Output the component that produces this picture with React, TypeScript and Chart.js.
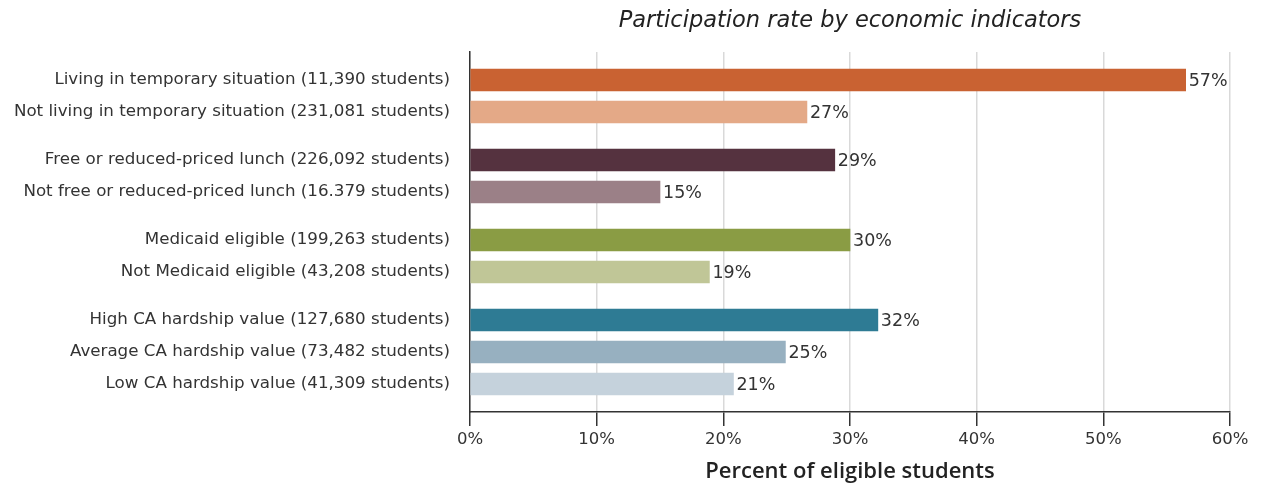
import React, { useEffect, useRef } from "react";
import { Chart, registerables } from "chart.js";

Chart.register(...registerables);

const groups: string[][] = [
  ["Living in temporary situation (11,390 students)", "Not living in temporary situation (231,081 students)"],
  ["Free or reduced-priced lunch (226,092 students)", "Not free or reduced-priced lunch (16.379 students)"],
  ["Medicaid eligible (199,263 students)", "Not Medicaid eligible (43,208 students)"],
  [
    "High CA hardship value (127,680 students)",
    "Average CA hardship value (73,482 students)",
    "Low CA hardship value (41,309 students)",
  ],
];

const values: number[] = [56.5, 26.6, 28.8, 15.0, 30.0, 18.9, 32.2, 24.9, 20.8];

const barColors: string[] = [
  "#C96232",
  "#E4A987",
  "#55323F",
  "#9B8087",
  "#8A9C44",
  "#C0C697",
  "#2E7B94",
  "#97B0C0",
  "#C5D2DC",
];

const xTicks: number[] = [0, 10, 20, 30, 40, 50, 60];

const chartTitle = "Participation rate by economic indicators";
const xTitle = "Percent of eligible students";

// derive slot positions from group structure (2 units within group, 3 between groups)
const labels: string[] = [];
const slots: number[] = [];
{
  let pos = 0;
  groups.forEach((g, gi) => {
    if (gi > 0) pos += 1;
    g.forEach((l, i) => {
      if (i > 0 || gi > 0) pos += 2;
      labels.push(l);
      slots.push(pos);
    });
  });
}

const FONT = "'DejaVu Sans', sans-serif";

export default function App() {
  const ref = useRef<HTMLCanvasElement | null>(null);
  useEffect(() => {
    if (!ref.current) return;
    const valueLabelPlugin = {
      id: "valueLabels",
      afterDatasetsDraw(chart: any) {
        const ctx = chart.ctx;
        const meta = chart.getDatasetMeta(0);
        ctx.save();
        ctx.font = `17.5px ${FONT}`;
        ctx.fillStyle = "#333";
        ctx.textAlign = "left";
        ctx.textBaseline = "middle";
        meta.data.forEach((el: any, i: number) => {
          ctx.fillText(Math.round(values[i]) + "%", el.x + 3, el.y + 1);
        });
        ctx.restore();
      },
    };
    const chart = new Chart(ref.current, {
      type: "bar",
      data: {
        datasets: [
          {
            data: values.map((v, i) => ({ x: v, y: slots[i] })),
            backgroundColor: barColors,
            barThickness: 22,
          },
        ],
      },
      options: {
        indexAxis: "y",
        animation: false,
        responsive: false,
        layout: { padding: { left: 0, right: 34, top: 0, bottom: 0 } },
        plugins: {
          legend: { display: false },
          tooltip: { enabled: false },
          title: {
            display: true,
            text: chartTitle,
            fullSize: false,
            color: "#222",
            font: { family: FONT, size: 22.5, style: "italic", weight: "normal" },
            padding: { top: 8, bottom: 17 },
          },
        },
        scales: {
          y: {
            type: "linear",
            reverse: true,
            offset: false,
            min: -1.75,
            max: 20.75,
            afterBuildTicks: (axis: any) => {
              axis.ticks = slots.map((v) => ({ value: v }));
            },
            afterFit: (axis: any) => {
              axis.width = 470;
            },
            grid: { display: false },
            border: { display: true, color: "#333", width: 1.5 },
            ticks: {
              autoSkip: false,
              padding: 12,
              color: "#333",
              font: { family: FONT, size: 16.7 },
              callback: (v: any) => {
                const i = slots.indexOf(Number(v));
                return i >= 0 ? labels[i] : "";
              },
            },
          },
          x: {
            type: "linear",
            min: xTicks[0],
            max: xTicks[xTicks.length - 1],
            afterBuildTicks: (axis: any) => {
              axis.ticks = xTicks.map((v) => ({ value: v }));
            },
            afterFit: (axis: any) => {
              axis.height = 73;
            },
            grid: {
              color: "#d9d9d9",
              lineWidth: 1.5,
              tickColor: "#333",
              tickLength: 14,
              tickWidth: 1.5,
            },
            border: { display: true, color: "#333", width: 1.5 },
            ticks: {
              padding: 4,
              color: "#333",
              font: { family: FONT, size: 16.5 },
              callback: (v: any) => v + "%",
            },
            title: {
              display: true,
              text: xTitle,
              color: "#222",
              font: { family: "'Open Sans', sans-serif", size: 22, weight: 600 },
              padding: { top: 0, bottom: 0 },
            },
          },
        },
      },
      plugins: [valueLabelPlugin],
    } as any);
    return () => chart.destroy();
  }, []);
  return (
    <div style={{ position: "absolute", left: 0, top: 0, width: 1264, height: 485, background: "#fff" }}>
      <canvas ref={ref} width={1264} height={485} />
    </div>
  );
}
